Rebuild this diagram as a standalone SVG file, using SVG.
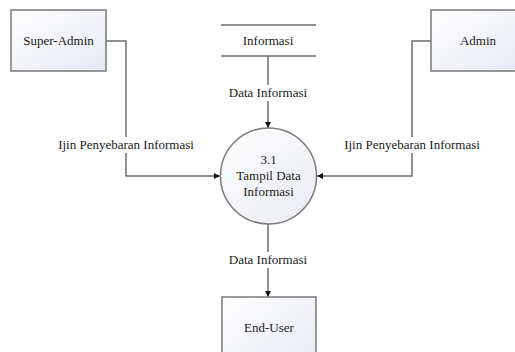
<svg xmlns="http://www.w3.org/2000/svg" width="515" height="352" viewBox="0 0 515 352">
  <style>
    .entity { fill: url(#boxFill); stroke: #7a7a7a; stroke-width: 1.5; }
    .process { fill: url(#circleFill); stroke: #7a7a7a; stroke-width: 1.5; }
    .store { stroke: #6e6e6e; stroke-width: 1.5; fill: none; }
    .flow { stroke: #6e6e6e; stroke-width: 1.5; fill: none; }
    text { font-family: "Times New Roman", "Liberation Serif", "DejaVu Serif", serif; font-size: 13px; fill: #1a1a1a; text-anchor: middle; }
    .gap { fill: #ffffff; }
  </style>
  <defs>
    <linearGradient id="boxFill" x1="0" y1="0" x2="1" y2="1">
      <stop offset="0" stop-color="#ffffff"/>
      <stop offset="1" stop-color="#e6e9f3"/>
    </linearGradient>
    <linearGradient id="circleFill" x1="0" y1="0" x2="1" y2="1">
      <stop offset="0" stop-color="#ffffff"/>
      <stop offset="1" stop-color="#e9ebf2"/>
    </linearGradient>
    <marker id="arrow" viewBox="0 0 10 10" refX="10" refY="5" markerWidth="6" markerHeight="6" orient="auto" markerUnits="userSpaceOnUse">
      <path d="M0,0 L10,5 L0,10 z" fill="#111111"/>
    </marker>
  </defs>

  <!-- data flows -->
  <g id="connectors">
    <path class="flow" d="M106,41 H126 V176 H220" marker-end="url(#arrow)"/>
    <path class="flow" d="M431,41 H412 V176 H317" marker-end="url(#arrow)"/>
    <path class="flow" d="M268,56 V128" marker-end="url(#arrow)"/>
    <path class="flow" d="M268,224 V297" marker-end="url(#arrow)"/>
    <rect class="gap" x="52" y="137" width="148" height="16"/>
    <text x="126" y="149">Ijin Penyebaran Informasi</text>
    <rect class="gap" x="338" y="137" width="148" height="16"/>
    <text x="412" y="149">Ijin Penyebaran Informasi</text>
    <rect class="gap" x="222" y="85" width="92" height="16"/>
    <text x="268" y="97">Data Informasi</text>
    <rect class="gap" x="222" y="252" width="92" height="16"/>
    <text x="268" y="264">Data Informasi</text>
  </g>

  <g id="super-admin">
    <rect class="entity" x="11" y="10" width="95" height="61"/>
    <text x="58.5" y="45">Super-Admin</text>
  </g>

  <g id="admin">
    <rect class="entity" x="431" y="10" width="95" height="61"/>
    <text x="478" y="45">Admin</text>
  </g>

  <g id="informasi-store">
    <line class="store" x1="221" y1="25" x2="316" y2="25"/>
    <line class="store" x1="221" y1="56" x2="316" y2="56"/>
    <text x="268" y="45">Informasi</text>
  </g>

  <g id="process-3-1">
    <circle class="process" cx="268.5" cy="176" r="48"/>
    <text x="268.5" y="164">3.1</text>
    <text x="268.5" y="180">Tampil Data</text>
    <text x="268.5" y="196">Informasi</text>
  </g>

  <g id="end-user">
    <rect class="entity" x="222" y="297" width="94" height="70"/>
    <text x="269" y="332">End-User</text>
  </g>
</svg>
